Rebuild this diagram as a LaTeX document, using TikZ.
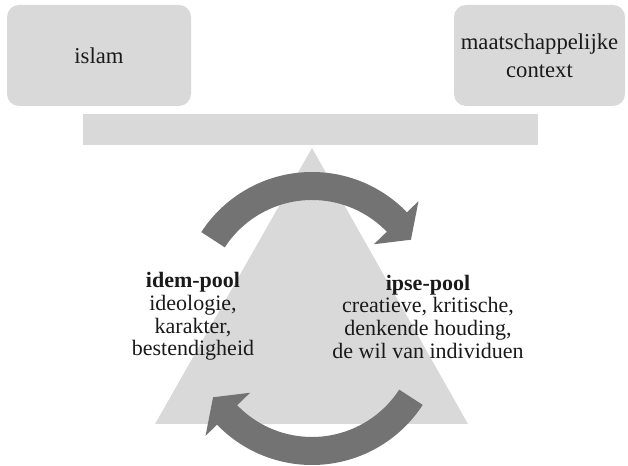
\documentclass[tikz,border=0pt]{standalone}
\usepackage{fontspec}
\setmainfont{Liberation Serif}
\usetikzlibrary{positioning}

\definecolor{lightgrey}{HTML}{D9D9D9}
\definecolor{arrowgrey}{HTML}{737373}
\definecolor{textgrey}{HTML}{1A1A1A}

\tikzset{
  topbox/.style={fill=lightgrey, draw=none, rounded corners=9pt, align=center,
    text=textgrey, minimum height=75.75pt, font=\fontsize{17}{21}\selectfont},
  pooltext/.style={align=center, text=textgrey, font=\fontsize{16.5}{17}\selectfont},
  arrowfill/.style={fill=arrowgrey, draw=none}
}

\begin{document}
\begin{tikzpicture}[x=0.75pt, y=0.75pt]
	\useasboundingbox (0,0) rectangle (628,466);
	\coordinate (apex) at (312, 318);
	\coordinate (baseL) at (155, 42);
	\coordinate (baseR) at (468, 42);
	\coordinate (topc) at (312, 162);
	\coordinate (botc) at (312, 133);

	% balance: beam and fulcrum
	\fill [lightgrey] (apex) -- (baseR) -- (baseL) -- cycle;
	\fill [lightgrey] (83, 321) rectangle (538, 352);

	\node [topbox, minimum width=138pt] (islam) at (99, 410.5) {islam};
	\node [topbox, minimum width=128.25pt] (context) at (539.5, 410.5) {maatschappelijke\\context};

	% cycle of arrows
	\begin{scope}[shift={(topc)}]
		\fill [arrowfill] (147:132) arc [start angle=147, end angle=44, radius=132]
			-- (44:148) -- (33:118) -- (44:86) -- (44:104)
			arc [start angle=44, end angle=147, radius=104] -- cycle;
	\end{scope}
	\begin{scope}[shift={(botc)}, rotate=180]
		\fill [arrowfill] (147:132) arc [start angle=147, end angle=44, radius=132]
			-- (44:148) -- (33:118) -- (44:86) -- (44:104)
			arc [start angle=44, end angle=147, radius=104] -- cycle;
	\end{scope}

	\node [pooltext] (idem) at (193, 149.5) {\textbf{idem-pool}\\ideologie,\\karakter,\\bestendigheid};
	\node [pooltext] (ipse) at (428, 149.5) {\textbf{ipse-pool}\\creatieve, kritische,\\denkende houding,\\de wil van individuen};
\end{tikzpicture}
\end{document}
